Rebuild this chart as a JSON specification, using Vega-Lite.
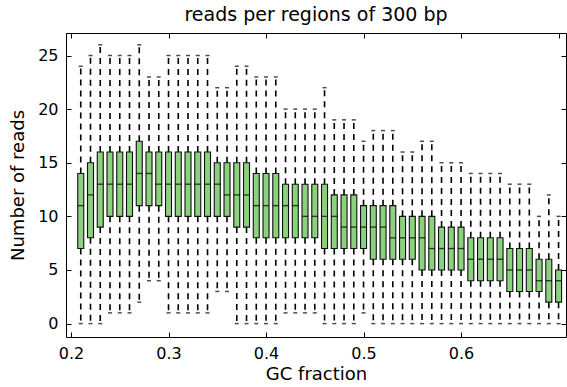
{
  "$schema": "https://vega.github.io/schema/vega-lite/v6.json",
  "width": 500,
  "height": 304,
  "autosize": {"type": "none"},
  "padding": {"left": 66, "top": 33, "right": 1, "bottom": 50},
  "background": "white",
  "title": {"text": "reads per regions of 300 bp", "fontSize": 19, "font": "DejaVu Sans", "fontWeight": "normal", "offset": 8, "color": "black"},
  "config": {
    "font": "DejaVu Sans",
    "view": {"stroke": "black", "strokeWidth": 1},
    "axis": {"domain": false, "grid": false, "labelColor": "black", "tickColor": "black", "titleColor": "black", "labelFont": "DejaVu Sans", "titleFont": "DejaVu Sans", "titleFontWeight": "normal", "labelFontSize": 16, "titleFontSize": 18, "labelFlush": false, "labelOverlap": false, "tickWidth": 1}
  },
  "data": {"values": [
    {"gc": 0.21, "lo": 0, "q1": 7, "med": 11, "q3": 14, "hi": 24},
    {"gc": 0.22, "lo": 0, "q1": 8, "med": 12, "q3": 15, "hi": 25},
    {"gc": 0.23, "lo": 0, "q1": 9, "med": 13, "q3": 16, "hi": 26},
    {"gc": 0.24, "lo": 1, "q1": 10, "med": 13, "q3": 16, "hi": 25},
    {"gc": 0.25, "lo": 1, "q1": 10, "med": 13, "q3": 16, "hi": 25},
    {"gc": 0.26, "lo": 1, "q1": 10, "med": 13, "q3": 16, "hi": 25},
    {"gc": 0.27, "lo": 2, "q1": 11, "med": 14, "q3": 17, "hi": 26},
    {"gc": 0.28, "lo": 4, "q1": 11, "med": 14, "q3": 16, "hi": 23},
    {"gc": 0.29, "lo": 4, "q1": 11, "med": 13, "q3": 16, "hi": 23},
    {"gc": 0.30, "lo": 1, "q1": 10, "med": 13, "q3": 16, "hi": 25},
    {"gc": 0.31, "lo": 1, "q1": 10, "med": 13, "q3": 16, "hi": 25},
    {"gc": 0.32, "lo": 1, "q1": 10, "med": 13, "q3": 16, "hi": 25},
    {"gc": 0.33, "lo": 1, "q1": 10, "med": 13, "q3": 16, "hi": 25},
    {"gc": 0.34, "lo": 1, "q1": 10, "med": 13, "q3": 16, "hi": 25},
    {"gc": 0.35, "lo": 3, "q1": 10, "med": 13, "q3": 15, "hi": 22},
    {"gc": 0.36, "lo": 3, "q1": 10, "med": 12, "q3": 15, "hi": 22},
    {"gc": 0.37, "lo": 0, "q1": 9, "med": 12, "q3": 15, "hi": 24},
    {"gc": 0.38, "lo": 0, "q1": 9, "med": 12, "q3": 15, "hi": 24},
    {"gc": 0.39, "lo": 0, "q1": 8, "med": 11, "q3": 14, "hi": 23},
    {"gc": 0.40, "lo": 0, "q1": 8, "med": 11, "q3": 14, "hi": 23},
    {"gc": 0.41, "lo": 0, "q1": 8, "med": 11, "q3": 14, "hi": 23},
    {"gc": 0.42, "lo": 1, "q1": 8, "med": 11, "q3": 13, "hi": 20},
    {"gc": 0.43, "lo": 1, "q1": 8, "med": 11, "q3": 13, "hi": 20},
    {"gc": 0.44, "lo": 1, "q1": 8, "med": 10, "q3": 13, "hi": 20},
    {"gc": 0.45, "lo": 1, "q1": 8, "med": 10, "q3": 13, "hi": 20},
    {"gc": 0.46, "lo": 0, "q1": 7, "med": 10, "q3": 13, "hi": 22},
    {"gc": 0.47, "lo": 0, "q1": 7, "med": 10, "q3": 12, "hi": 19},
    {"gc": 0.48, "lo": 0, "q1": 7, "med": 9, "q3": 12, "hi": 19},
    {"gc": 0.49, "lo": 0, "q1": 7, "med": 9, "q3": 12, "hi": 19},
    {"gc": 0.50, "lo": 1, "q1": 7, "med": 9, "q3": 11, "hi": 17},
    {"gc": 0.51, "lo": 0, "q1": 6, "med": 9, "q3": 11, "hi": 18},
    {"gc": 0.52, "lo": 0, "q1": 6, "med": 9, "q3": 11, "hi": 18},
    {"gc": 0.53, "lo": 0, "q1": 6, "med": 8, "q3": 11, "hi": 18},
    {"gc": 0.54, "lo": 0, "q1": 6, "med": 8, "q3": 10, "hi": 16},
    {"gc": 0.55, "lo": 0, "q1": 6, "med": 8, "q3": 10, "hi": 16},
    {"gc": 0.56, "lo": 0, "q1": 5, "med": 8, "q3": 10, "hi": 17},
    {"gc": 0.57, "lo": 0, "q1": 5, "med": 7, "q3": 10, "hi": 17},
    {"gc": 0.58, "lo": 0, "q1": 5, "med": 7, "q3": 9, "hi": 15},
    {"gc": 0.59, "lo": 0, "q1": 5, "med": 7, "q3": 9, "hi": 15},
    {"gc": 0.60, "lo": 0, "q1": 5, "med": 7, "q3": 9, "hi": 15},
    {"gc": 0.61, "lo": 0, "q1": 4, "med": 6, "q3": 8, "hi": 14},
    {"gc": 0.62, "lo": 0, "q1": 4, "med": 6, "q3": 8, "hi": 14},
    {"gc": 0.63, "lo": 0, "q1": 4, "med": 6, "q3": 8, "hi": 14},
    {"gc": 0.64, "lo": 0, "q1": 4, "med": 6, "q3": 8, "hi": 14},
    {"gc": 0.65, "lo": 0, "q1": 3, "med": 5, "q3": 7, "hi": 13},
    {"gc": 0.66, "lo": 0, "q1": 3, "med": 5, "q3": 7, "hi": 13},
    {"gc": 0.67, "lo": 0, "q1": 3, "med": 5, "q3": 7, "hi": 13},
    {"gc": 0.68, "lo": 0, "q1": 3, "med": 4, "q3": 6, "hi": 10},
    {"gc": 0.69, "lo": 0, "q1": 2, "med": 4, "q3": 6, "hi": 12},
    {"gc": 0.70, "lo": 0, "q1": 2, "med": 4, "q3": 5, "hi": 10}
  ]},
  "resolve": {"axis": {"x": "independent", "y": "independent"}},
  "layer": [
    {
      "mark": {"type": "rule", "color": "black", "strokeWidth": 1.6, "strokeDash": [6, 5], "clip": true},
      "encoding": {
        "x": {"field": "gc", "type": "quantitative", "scale": {"domain": [0.2, 0.7025], "nice": false, "zero": false},
              "axis": {"orient": "bottom", "values": [0.2, 0.3, 0.4, 0.5, 0.6], "format": ".1f", "title": "GC fraction", "tickSize": -5, "labelPadding": 13, "titlePadding": 4}},
        "y": {"field": "q3", "type": "quantitative", "scale": {"domain": [-1.25, 27.1], "nice": false, "zero": false},
              "axis": {"orient": "left", "values": [0, 5, 10, 15, 20, 25], "title": "Number of reads", "tickSize": -5, "labelPadding": 13, "titlePadding": 10}},
        "y2": {"field": "hi"}
      }
    },
    {
      "mark": {"type": "rule", "color": "black", "strokeWidth": 1.6, "strokeDash": [6, 5], "clip": true},
      "encoding": {
        "x": {"field": "gc", "type": "quantitative", "axis": {"orient": "top", "values": [0.2, 0.3, 0.4, 0.5, 0.6, 0.7], "labels": false, "title": null, "tickSize": -5}},
        "y": {"field": "q1", "type": "quantitative", "axis": {"orient": "right", "values": [0, 5, 10, 15, 20, 25], "labels": false, "title": null, "tickSize": -5}},
        "y2": {"field": "lo"}
      }
    },
    {
      "mark": {"type": "tick", "color": "black", "size": 4, "thickness": 1.5, "orient": "horizontal", "clip": true},
      "encoding": {
        "x": {"field": "gc", "type": "quantitative", "axis": null},
        "y": {"field": "hi", "type": "quantitative", "axis": null}
      }
    },
    {
      "mark": {"type": "tick", "color": "black", "size": 4, "thickness": 1.5, "orient": "horizontal", "clip": true},
      "encoding": {
        "x": {"field": "gc", "type": "quantitative", "axis": null},
        "y": {"field": "lo", "type": "quantitative", "axis": null}
      }
    },
    {
      "mark": {"type": "bar", "size": 6, "fill": "#8cd17d", "stroke": "#111111", "strokeWidth": 1.1, "clip": true},
      "encoding": {
        "x": {"field": "gc", "type": "quantitative", "axis": null},
        "y": {"field": "q1", "type": "quantitative", "axis": null},
        "y2": {"field": "q3"}
      }
    },
    {
      "mark": {"type": "tick", "color": "black", "size": 6, "thickness": 1.4, "orient": "horizontal", "clip": true},
      "encoding": {
        "x": {"field": "gc", "type": "quantitative", "axis": null},
        "y": {"field": "med", "type": "quantitative", "axis": null}
      }
    }
  ]
}
